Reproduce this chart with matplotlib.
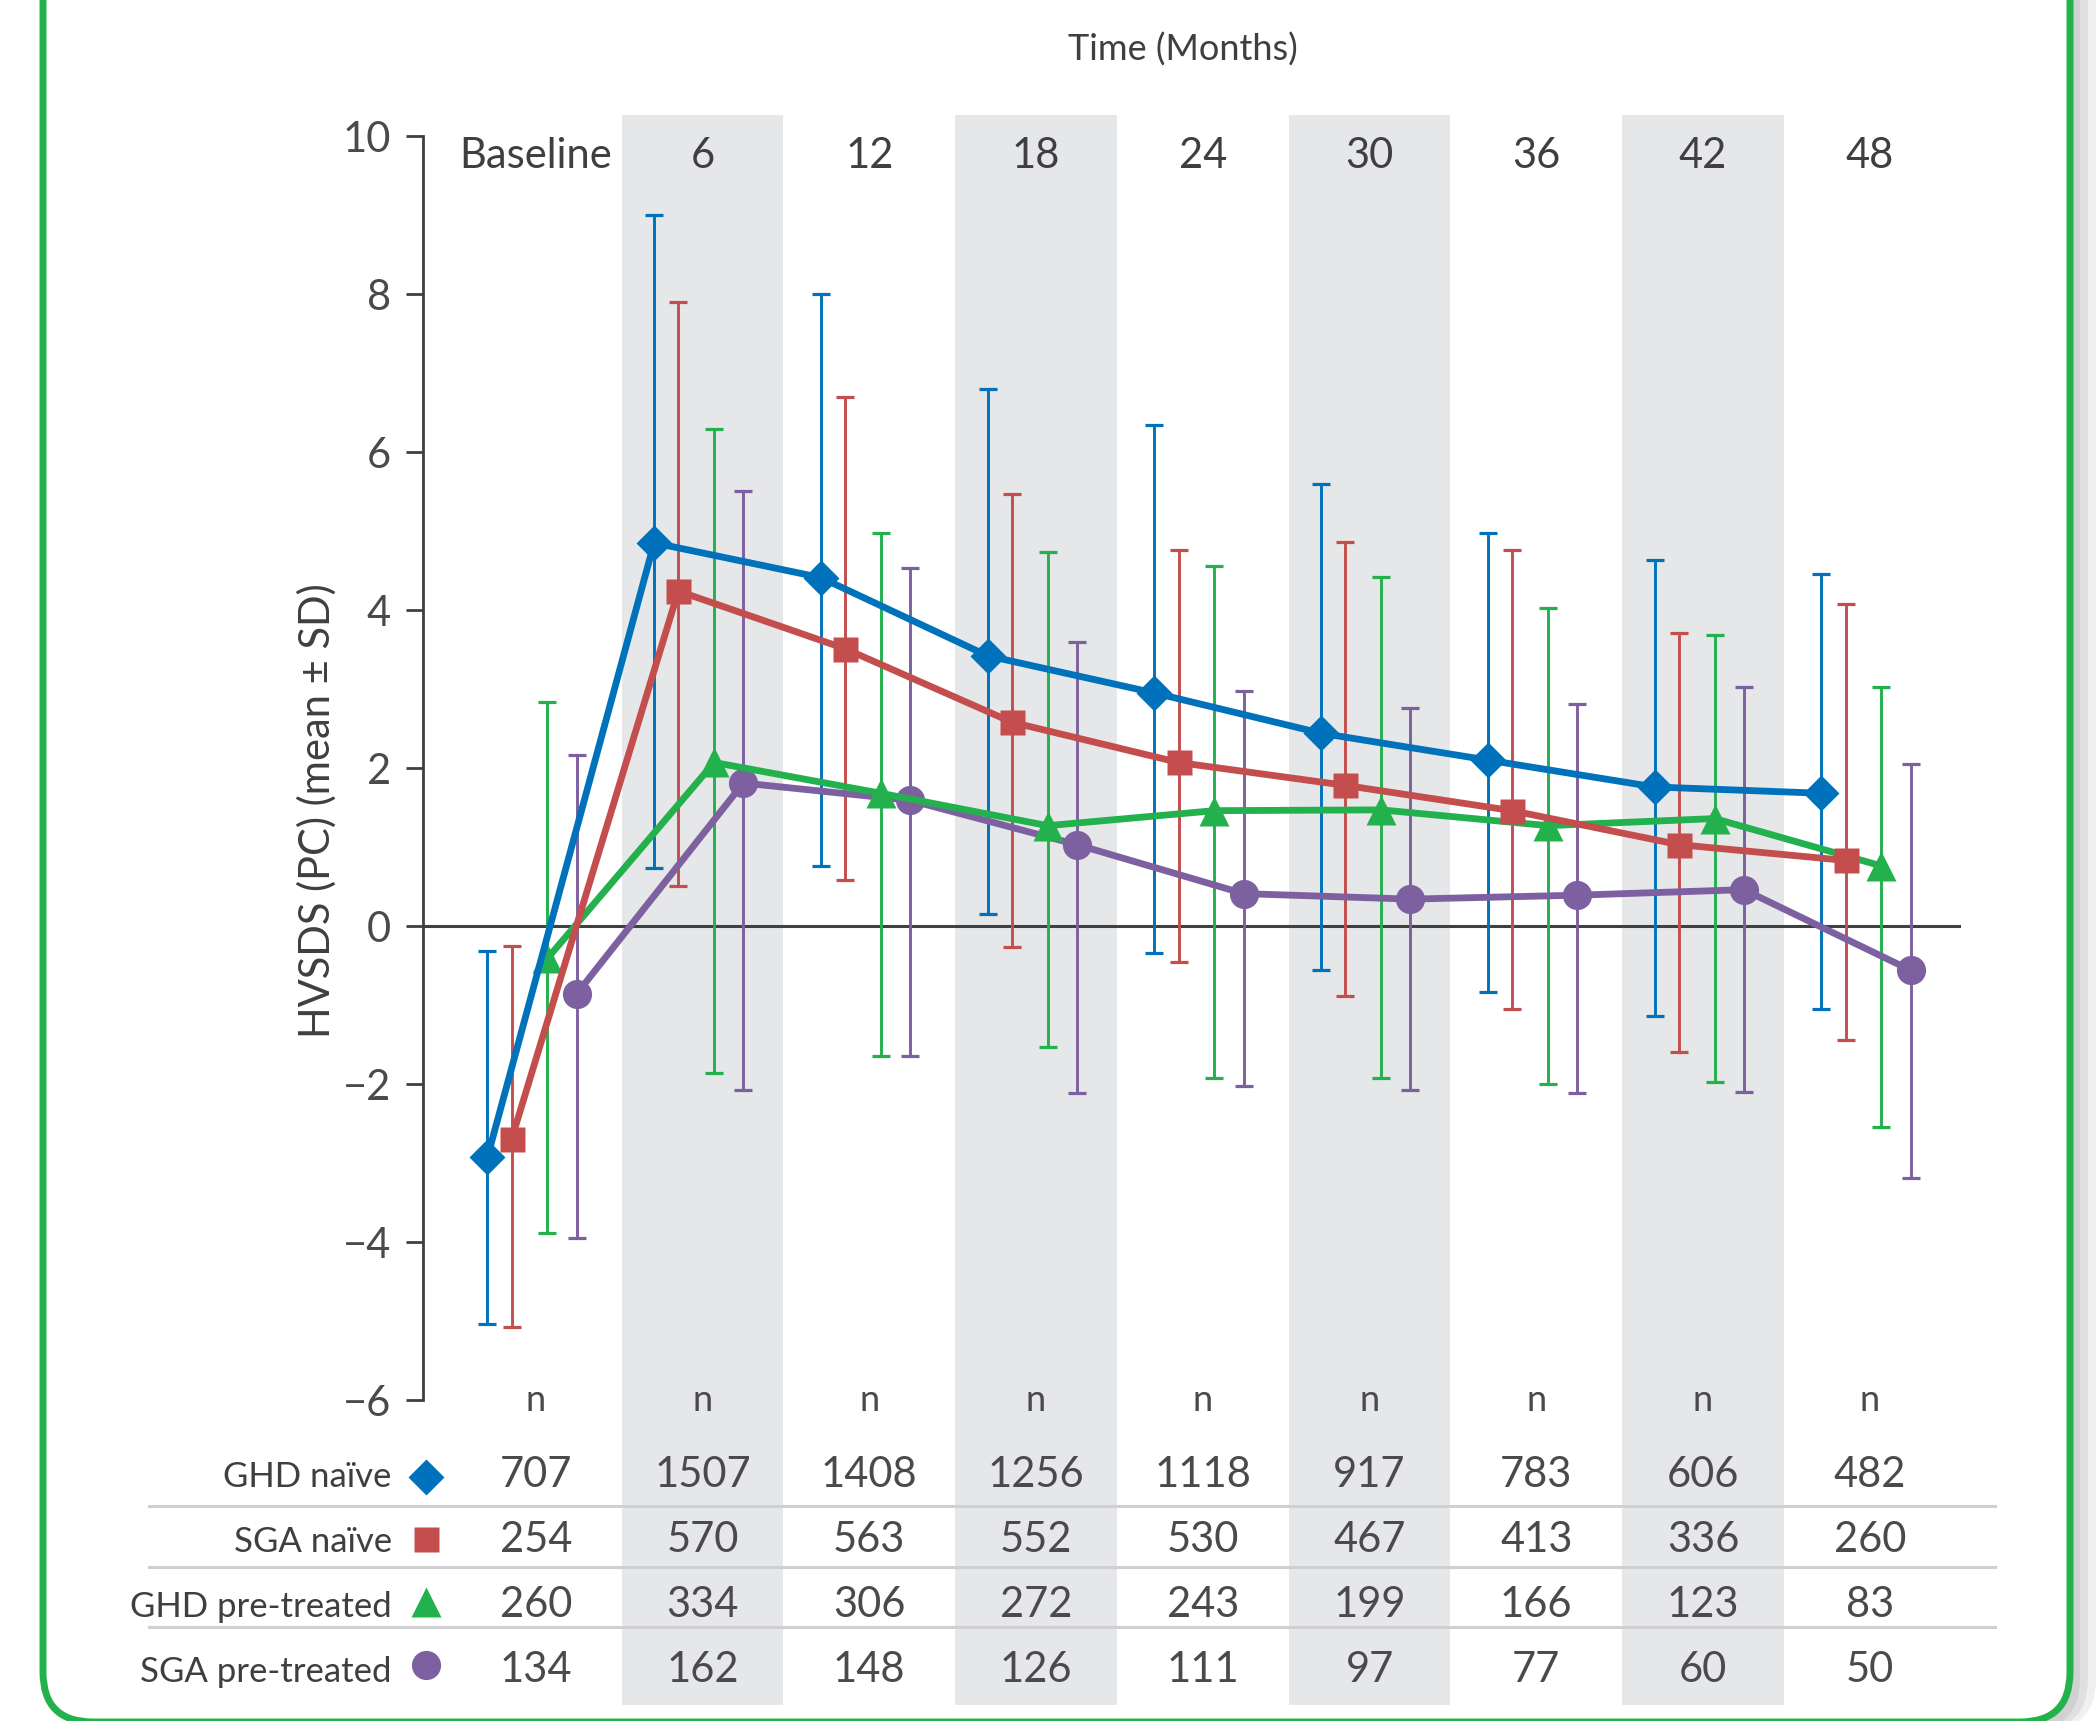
import matplotlib
matplotlib.use("Agg")
import matplotlib.pyplot as plt
from matplotlib.patches import FancyBboxPatch
from matplotlib.transforms import IdentityTransform

plt.rcParams["font.family"] = ["Lato", "DejaVu Sans"]

# data
columns = ["Baseline", "6", "12", "18", "24", "30", "36", "42", "48"]
groups = ["GHD naïve", "SGA naïve", "GHD pre-treated", "SGA pre-treated"]

ghd_naive_mean = [-2.93, 4.85, 4.41, 3.42, 2.95, 2.44, 2.10, 1.76, 1.68]
ghd_naive_lo = [-5.04, 0.73, 0.76, 0.15, -0.34, -0.56, -0.83, -1.14, -1.05]
ghd_naive_hi = [-0.32, 9.00, 8.00, 6.80, 6.34, 5.59, 4.98, 4.63, 4.46]

sga_naive_mean = [-2.70, 4.24, 3.51, 2.58, 2.07, 1.78, 1.46, 1.03, 0.83]
sga_naive_lo = [-5.07, 0.51, 0.58, -0.27, -0.46, -0.88, -1.05, -1.59, -1.44]
sga_naive_hi = [-0.25, 7.90, 6.69, 5.47, 4.76, 4.86, 4.76, 3.71, 4.08]

ghd_pre_mean = [-0.41, 2.07, 1.68, 1.27, 1.46, 1.47, 1.27, 1.36, 0.76]
ghd_pre_lo = [-3.89, -1.86, -1.64, -1.53, -1.92, -1.93, -2.00, -1.97, -2.54]
ghd_pre_hi = [2.83, 6.29, 4.98, 4.73, 4.56, 4.42, 4.02, 3.68, 3.02]

sga_pre_mean = [-0.86, 1.81, 1.59, 1.03, 0.41, 0.34, 0.39, 0.46, -0.56]
sga_pre_lo = [-3.95, -2.07, -1.64, -2.12, -2.03, -2.07, -2.12, -2.10, -3.19]
sga_pre_hi = [2.17, 5.51, 4.53, 3.59, 2.97, 2.76, 2.81, 3.03, 2.05]

n_ghd_naive = [707, 1507, 1408, 1256, 1118, 917, 783, 606, 482]
n_sga_naive = [254, 570, 563, 552, 530, 467, 413, 336, 260]
n_ghd_pre = [260, 334, 306, 272, 243, 199, 166, 123, 83]
n_sga_pre = [134, 162, 148, 126, 111, 97, 77, 60, 50]

# styles
colors = ["#0072BC", "#C44E4D", "#23B14D", "#7D60A0"]
markers = ["D", "s", "^", "o"]
msizes = [18, 18, 22, 21]
offsets = [-0.29, -0.145, 0.07, 0.245]
txt = "#3F3F41"
band = "#E6E7E8"

means = [ghd_naive_mean, sga_naive_mean, ghd_pre_mean, sga_pre_mean]
los = [ghd_naive_lo, sga_naive_lo, ghd_pre_lo, sga_pre_lo]
his = [ghd_naive_hi, sga_naive_hi, ghd_pre_hi, sga_pre_hi]
counts = [n_ghd_naive, n_sga_naive, n_ghd_pre, n_sga_pre]

fig = plt.figure(figsize=(20.99, 17.21), dpi=100)

# green rounded frame with a soft shadow on the right
for dx, a in [(26, 0.25), (18, 0.35), (10, 0.5)]:
    sh = FancyBboxPatch((43 + dx, -8), 2027, 1800, boxstyle="round,pad=0,rounding_size=50",
                        transform=IdentityTransform(), facecolor="#C4C4C8", edgecolor="none",
                        alpha=a, zorder=0)
    fig.patches.append(sh)
frame = FancyBboxPatch((43, -1), 2027, 1800, boxstyle="round,pad=0,rounding_size=50",
                       transform=IdentityTransform(), facecolor="white", edgecolor="#22B24C",
                       linewidth=5, zorder=1)
fig.patches.append(frame)

ax = fig.add_axes([423 / 2099, 321 / 1721, 1538 / 2099, 1264 / 1721])
ax.set_facecolor("none")
ax.set_zorder(2)
x = list(range(len(columns)))
ax.set_xlim(-0.676, 8.547)
ax.set_ylim(-6, 10)

# grey bands behind every other column, running down through the n table
for i in x:
    if i % 2 == 1:
        ax.axvspan(i - 0.483, i + 0.483, ymin=-0.2413, ymax=1.0166, color=band,
                   lw=0, zorder=0, clip_on=False)

ax.axhline(0, color="#404040", lw=2.2, zorder=1)

for k in range(4):
    xs = [i + offsets[k] for i in x]
    yerr = [[m - l for m, l in zip(means[k], los[k])], [h - m for m, h in zip(means[k], his[k])]]
    ax.errorbar(xs, means[k], yerr=yerr, fmt="none", ecolor=colors[k], elinewidth=2.1,
                capsize=6.8, capthick=2.3, zorder=2)
for k in [3, 2, 1, 0]:
    xs = [i + offsets[k] for i in x]
    ax.plot(xs, means[k], color=colors[k], lw=4.9, marker=markers[k], ms=msizes[k],
            mec="none", zorder=3 + (3 - k))

# axes styling
for s in ["top", "right", "bottom"]:
    ax.spines[s].set_visible(False)
ax.spines["left"].set_color("#404040")
ax.spines["left"].set_linewidth(2)
ax.set_xticks([])
ax.set_yticks(range(-6, 11, 2))
ax.set_yticklabels([str(v).replace("-", "\u2212") for v in range(-6, 11, 2)])
ax.tick_params(axis="y", length=12, width=2, color="#404040", pad=11,
               labelsize=30, labelcolor="#4A4A4C")

# column headers
for i, c in enumerate(columns):
    ax.text(i, 9.6, c, ha="center", va="baseline", fontsize=30, color=txt, clip_on=False)

fig.text(1183 / 2099, 1 - 50 / 1721, "Time (Months)", ha="center", va="center",
         fontsize=26, color=txt)
fig.text(317 / 2099, 1 - 811 / 1721, "HVSDS (PC) (mean ± SD)", rotation=90,
         ha="center", va="center", fontsize=30, color=txt)

# n table under the plot
for i in x:
    ax.text(i, -6.14, "n", ha="center", va="baseline", fontsize=26, color="#4A4A4C",
            clip_on=False)

row_base = [-7.10, -7.92, -8.75, -9.57]
row_mark = [-6.97, -7.76, -8.56, -9.35]
for k in range(4):
    ax.text(-0.863, row_base[k], groups[k], ha="right", va="baseline", fontsize=25,
            color=txt, clip_on=False)
    ax.plot([-0.659], [row_mark[k]], marker=markers[k], ms=msizes[k], color=colors[k],
            mec="none", clip_on=False, zorder=5)
    for i in x:
        ax.text(i, row_base[k], str(counts[k][i]), ha="center", va="baseline",
                fontsize=30, color="#4A4A4C", clip_on=False)

for yl in [-7.34, -8.11, -8.87]:
    ax.plot([-2.32, 8.75], [yl, yl], color="#D0D0D2", lw=2.2, clip_on=False, zorder=1)

fig.savefig("out.png", dpi=100)
